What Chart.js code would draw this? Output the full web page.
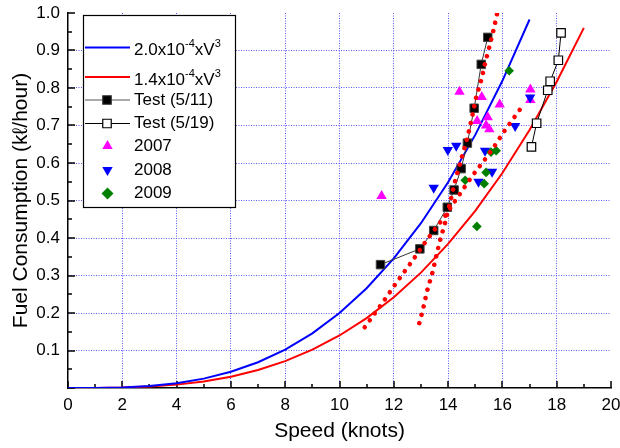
<!DOCTYPE html>
<html><head><meta charset="utf-8">
<script src="https://cdn.jsdelivr.net/npm/chart.js@4/dist/chart.umd.min.js"></script>
<style>html,body{margin:0;padding:0;background:#fff;}canvas{display:block;}</style>
</head><body>
<canvas id="c" width="620" height="448"></canvas>
<script>
const FONT = "'Liberation Sans', Arial, Helvetica, 'DejaVu Sans', sans-serif";

// ---- data ----
const curveSpeedBlue = [0,1,2,3,4,5,6,7,8,9,10,11,12,13,14,15,16,17];
const curveFuelBlue  = [0,0.0002,0.0016,0.0054,0.0128,0.025,0.0432,0.0686,0.1024,0.1458,0.2,0.2662,0.3456,0.4394,0.5488,0.675,0.8192,0.9826];
const curveSpeedRed  = [0,1,2,3,4,5,6,7,8,9,10,11,12,13,14,15,16,17,18,19];
const curveFuelRed   = [0,0.0001,0.0011,0.0038,0.009,0.0175,0.0302,0.048,0.0717,0.1021,0.14,0.1863,0.2419,0.3076,0.3842,0.4725,0.5734,0.6878,0.8165,0.9603];

const test511Speed = [11.51,12.96,13.47,13.97,14.22,14.48,14.71,14.96,15.22,15.46];
const test511Fuel  = [0.329,0.371,0.420,0.482,0.528,0.585,0.653,0.746,0.863,0.935];
const test519Speed = [17.07,17.26,17.67,17.76,18.06,18.16];
const test519Fuel  = [0.643,0.706,0.794,0.818,0.874,0.947];

const y2007Speed = [11.55,14.42,15.24,15.90,15.46,15.07,15.40,15.52,17.03,17.03];
const y2007Fuel  = [0.512,0.790,0.776,0.756,0.722,0.712,0.700,0.690,0.796,0.768];
const y2008Speed = [13.47,13.99,14.30,15.36,15.12,15.62,16.47,17.02];
const y2008Fuel  = [0.534,0.635,0.646,0.633,0.550,0.577,0.699,0.775];
const y2009Speed = [15.06,15.33,15.40,14.63,15.58,15.77,16.25];
const y2009Fuel  = [0.431,0.545,0.575,0.554,0.629,0.633,0.846];

const fitSteepSpeed = [12.94,13.10,13.24,13.42,13.56,13.71,13.89,14.11,14.26,14.44,14.60,14.76,14.91,15.03,15.22,15.36,15.52,15.67,15.80];
const fitSteepFuel  = [0.173,0.218,0.262,0.307,0.351,0.395,0.441,0.506,0.552,0.599,0.639,0.683,0.732,0.774,0.821,0.865,0.910,0.954,0.997];
const fitFlatSpeed  = [10.93,11.29,11.66,12.03,12.40,12.77,13.13,13.50,13.87,14.24,14.60,14.97,15.34,15.71,16.07,16.44,16.81];
const fitFlatFuel   = [0.162,0.198,0.235,0.274,0.311,0.348,0.386,0.422,0.457,0.497,0.535,0.573,0.608,0.645,0.685,0.722,0.759];

const xTickLabels = ['0','2','4','6','8','10','12','14','16','18','20'];
const yTickLabels = ['','0.1','0.2','0.3','0.4','0.5','0.6','0.7','0.8','0.9','1.0'];

const pts = (xs, ys) => xs.map((x, i) => ({x, y: ys[i]}));

// ---- plugins ----
const axisTicks = {
  id: 'axisTicks',
  beforeDatasetsDraw(chart) {
    const {ctx, chartArea: a, scales: {x, y}} = chart;
    ctx.save();
    ctx.strokeStyle = '#000';
    ctx.lineWidth = 1.5;
    ctx.beginPath();
    for (let v = 0; v <= 20; v++) {
      const px = Math.round(x.getPixelForValue(v));
      const len = v % 2 === 0 ? 7 : 4;
      ctx.moveTo(px, a.bottom); ctx.lineTo(px, a.bottom - len);
    }
    for (let k = 0; k <= 20; k++) {
      const py = Math.round(y.getPixelForValue(k * 0.05));
      const len = k % 2 === 0 ? 7 : 4;
      ctx.moveTo(a.left, py); ctx.lineTo(a.left + len, py);
    }
    ctx.stroke();
    ctx.restore();
  }
};

function marker(ctx, style, x, y, r, rot, fill, stroke, bw) {
  ctx.save();
  ctx.beginPath();
  if (style === 'rect') {
    const s = Math.SQRT1_2 * r;
    ctx.rect(x - s, y - s, 2 * s, 2 * s);
  } else if (style === 'triangle') {
    let rad = rot * Math.PI / 180;
    ctx.moveTo(x + Math.sin(rad) * r, y - Math.cos(rad) * r);
    rad += 2 * Math.PI / 3;
    ctx.lineTo(x + Math.sin(rad) * r, y - Math.cos(rad) * r);
    rad += 2 * Math.PI / 3;
    ctx.lineTo(x + Math.sin(rad) * r, y - Math.cos(rad) * r);
    ctx.closePath();
  } else if (style === 'rectRot') {
    ctx.moveTo(x, y - r); ctx.lineTo(x + r, y); ctx.lineTo(x, y + r); ctx.lineTo(x - r, y); ctx.closePath();
  }
  ctx.fillStyle = fill; ctx.fill();
  if (bw) { ctx.lineWidth = bw; ctx.strokeStyle = stroke; ctx.stroke(); }
  ctx.restore();
}

const legendEntries = [
  {kind: 'formula', coef: '2.0x10', color: '#0000ff'},
  {kind: 'formula', coef: '1.4x10', color: '#ff0000'},
  {kind: 'test', text: 'Test (5/11)', line: '#555555', fill: '#000000', stroke: '#333333'},
  {kind: 'test', text: 'Test (5/19)', line: '#000000', fill: '#ffffff', stroke: '#000000'},
  {kind: 'sym', text: '2007', style: 'triangle', rot: 0, color: '#ff00ff'},
  {kind: 'sym', text: '2008', style: 'triangle', rot: 180, color: '#0000ff'},
  {kind: 'sym', text: '2009', style: 'rectRot', rot: 0, color: '#008000'}
];

const boxLegend = {
  id: 'boxLegend',
  afterDraw(chart) {
    const ctx = chart.ctx;
    const bx = 83.5, by = 15.5, bw = 152, bh = 192;
    const rows = [47.5, 77, 100, 123.5, 146, 170, 193.5];
    ctx.save();
    ctx.fillStyle = '#fff';
    ctx.fillRect(bx, by, bw, bh);
    ctx.strokeStyle = '#000'; ctx.lineWidth = 1.2;
    ctx.strokeRect(bx, by, bw, bh);
    const tx = 134;
    legendEntries.forEach((e, i) => {
      const yy = rows[i];
      ctx.font = '17px ' + FONT;
      ctx.fillStyle = '#000';
      ctx.textBaseline = 'middle';
      ctx.textAlign = 'left';
      if (e.kind === 'formula') {
        ctx.strokeStyle = e.color; ctx.lineWidth = 2;
        ctx.beginPath(); ctx.moveTo(85, yy); ctx.lineTo(130, yy); ctx.stroke();
        const base = yy + 7.5;
        ctx.textBaseline = 'alphabetic';
        let x = tx;
        ctx.fillText(e.coef, x, base); x += ctx.measureText(e.coef).width;
        ctx.font = '11px ' + FONT;
        ctx.fillText('-4', x, base - 8); x += ctx.measureText('-4').width;
        ctx.font = '17px ' + FONT;
        ctx.fillText('xV', x, base); x += ctx.measureText('xV').width;
        ctx.font = '11px ' + FONT;
        ctx.fillText('3', x, base - 8);
      } else if (e.kind === 'test') {
        ctx.strokeStyle = e.line; ctx.lineWidth = 1;
        ctx.beginPath(); ctx.moveTo(85, yy); ctx.lineTo(130, yy); ctx.stroke();
        marker(ctx, 'rect', 107, yy, 6, 0, e.fill, e.stroke, 1.2);
        ctx.fillText(e.text, tx, yy);
      } else {
        marker(ctx, e.style, 107.5, yy, 6, e.rot, e.color, e.color, 0);
        ctx.fillText(e.text, tx, yy);
      }
    });
    ctx.restore();
  }
};

const gridColor = '#5a5aff';

new Chart(document.getElementById('c'), {
  type: 'scatter',
  data: {
    datasets: [
      {label: 'fit steep', data: pts(fitSteepSpeed, fitSteepFuel), showLine: true, pointRadius: 0,
       borderColor: '#ff0000', borderWidth: 4.6, borderDash: [0.01, 8.6], borderCapStyle: 'round', tension: 0.3},
      {label: 'fit flat', data: pts(fitFlatSpeed, fitFlatFuel), showLine: true, pointRadius: 0,
       borderColor: '#ff0000', borderWidth: 4.6, borderDash: [0.01, 8.6], borderCapStyle: 'round', tension: 0.3},
      {label: 'Test (5/11)', data: pts(test511Speed, test511Fuel), showLine: true, borderColor: '#333333', borderWidth: 1,
       pointStyle: 'rect', pointRadius: 6, pointBackgroundColor: '#000', pointBorderColor: '#444', pointBorderWidth: 1},
      {label: 'Test (5/19)', data: pts(test519Speed, test519Fuel), showLine: true, borderColor: '#000', borderWidth: 1,
       pointStyle: 'rect', pointRadius: 6, pointBackgroundColor: '#fff', pointBorderColor: '#000', pointBorderWidth: 1.2},
      {label: '2009', data: pts(y2009Speed, y2009Fuel), pointStyle: 'rectRot', pointRadius: 4.8,
       pointBackgroundColor: '#008000', pointBorderColor: '#008000', pointBorderWidth: 0},
      {label: '2008', data: pts(y2008Speed, y2008Fuel), pointStyle: 'triangle', pointRotation: 180, pointRadius: 6,
       pointBackgroundColor: '#0000ff', pointBorderColor: '#0000ff', pointBorderWidth: 0},
      {label: '2007', data: pts(y2007Speed, y2007Fuel), pointStyle: 'triangle', pointRadius: 6,
       pointBackgroundColor: '#ff00ff', pointBorderColor: '#ff00ff', pointBorderWidth: 0},
      {label: '2.0x10^-4xV^3', data: pts(curveSpeedBlue, curveFuelBlue), showLine: true, pointRadius: 0,
       borderColor: '#0000ff', borderWidth: 2, tension: 0},
      {label: '1.4x10^-4xV^3', data: pts(curveSpeedRed, curveFuelRed), showLine: true, pointRadius: 0,
       borderColor: '#ff0000', borderWidth: 2, tension: 0}
    ]
  },
  options: {
    responsive: false,
    animation: false,
    events: [],
    layout: {padding: {top: 13, right: 9, left: 0, bottom: 0}},
    plugins: {legend: {display: false}, tooltip: {enabled: false}},
    scales: {
      x: {
        type: 'linear', min: 0, max: 20,
        afterFit(s) { s.height = 60; s.paddingLeft = 0; s.paddingRight = 0; },
        ticks: {stepSize: 2, autoSkip: false, maxRotation: 0, padding: 7, color: '#000',
                font: {family: FONT, size: 17}, callback: (v, i) => xTickLabels[i]},
        grid: {drawTicks: false, lineWidth: 1,
               color: c => (c.tick && (c.tick.value <= 0 || c.tick.value >= 20)) ? 'rgba(0,0,0,0)' : gridColor},
        border: {display: true, color: '#000', width: 1.5, dash: [1, 1.5]},
        title: {display: true, text: 'Speed (knots)', color: '#000', font: {family: FONT, size: 21},
                padding: {top: 0, bottom: 4}}
      },
      y: {
        type: 'linear', min: 0, max: 1,
        afterFit(s) { s.width = 68; s.paddingTop = 0; s.paddingBottom = 0; },
        ticks: {stepSize: 0.1, autoSkip: false, padding: 8, color: '#000',
                font: {family: FONT, size: 17}, callback: (v, i) => yTickLabels[i]},
        grid: {drawTicks: false, lineWidth: 1,
               color: c => (c.tick && (c.tick.value < 0.05 || c.tick.value > 0.95)) ? 'rgba(0,0,0,0)' : gridColor},
        border: {display: true, color: '#000', width: 1.5, dash: [1, 1.5]},
        title: {display: true, text: 'Fuel Consumption (kℓ/hour)', color: '#000', font: {family: FONT, size: 21},
                padding: {top: 9, bottom: 0}}
      }
    }
  },
  plugins: [axisTicks, boxLegend]
});
</script>
</body></html>
